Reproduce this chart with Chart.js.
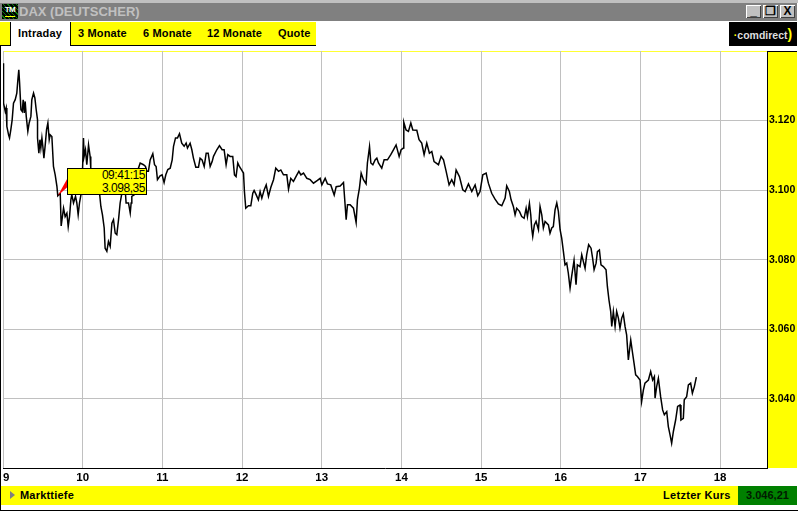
<!DOCTYPE html>
<html><head><meta charset="utf-8">
<script src="https://cdn.jsdelivr.net/npm/chart.js@4"></script>
<style>
html,body{margin:0;padding:0;background:#fff;overflow:hidden}
#w{position:relative;width:798px;height:511px;background:#fff;font-family:"Liberation Sans",Arial,sans-serif;overflow:hidden}
#w div,#w span.a{position:absolute;white-space:nowrap}
canvas{position:absolute;left:0;top:0;z-index:2}
.tab{top:27px;font:bold 11px "Liberation Sans";letter-spacing:.15px;color:#000;line-height:13px}
.btn{top:5px;width:15px;height:13px;background:#c0c0c0;box-shadow:inset 1px 1px 0 #fff,inset -1px -1px 0 #404040;color:#000;font:bold 12px/13px "Liberation Sans";text-align:center}
</style></head><body>
<div id="w">
  <div style="left:0;top:0;width:798px;height:3px;background:#c0c0c0"></div>
  <div style="left:0;top:3px;width:797px;height:18px;background:#808080"></div>
  <div style="left:2px;top:4px;width:16px;height:15px;background:repeating-linear-gradient(45deg,#000 0 2px,#0a7a0a 2px 3px);color:#fff;font:bold 8px/11px 'Liberation Sans';text-align:center;letter-spacing:-.5px"><span style="position:absolute;left:3px;bottom:2px;width:10px;height:1px;background:#ff0"></span>TM</div>
  <div style="left:19px;top:4px;font:bold 13px/16px 'Liberation Sans';color:#c0c0c0">DAX (DEUTSCHER)</div>
  <div class="btn" style="left:746px">_</div>
  <div class="btn" style="left:763px">&#10064;</div>
  <div class="btn" style="left:780px">X</div>

  <div style="left:0;top:22px;width:10px;height:23px;background:#ff0;border-bottom:1px solid #000"></div>
  <div style="left:10px;top:22px;width:1px;height:24px;background:#000"></div>
  <div style="left:71px;top:22px;width:245px;height:23px;background:#ff0;border-bottom:1px solid #000"></div>
  <div style="left:70px;top:22px;width:1px;height:24px;background:#000"></div>
  <div class="tab" style="left:18px">Intraday</div>
  <div class="tab" style="left:78px">3 Monate</div>
  <div class="tab" style="left:143px">6 Monate</div>
  <div class="tab" style="left:207px">12 Monate</div>
  <div class="tab" style="left:278px">Quote</div>
  <div style="left:729px;top:22px;width:68px;height:24px;background:#000;color:#ddd;font:bold 10.5px/24px 'Liberation Sans';text-align:center"><span style="color:#ff0">&#183;</span>comdirect<span style="color:#ff0;font-size:14px">)</span></div>

  <div style="left:3px;top:51px;width:764px;height:1px;background:#ffff33"></div>
  <div style="left:767px;top:51px;width:30px;height:417px;background:#ff0;box-shadow:inset 0 1px 0 #000"></div>

  <div style="left:1px;top:486px;width:737px;height:19px;background:#ff0"></div>
  <div style="left:738px;top:486px;width:59px;height:19px;background:#008000;color:#001a00;font:bold 11px/19px 'Liberation Sans';text-align:center">3.046,21</div>
  <div style="left:10px;top:491px;width:0;height:0;border-left:5px solid #808080;border-top:4px solid transparent;border-bottom:4px solid transparent"></div>
  <div style="left:20px;top:489px;font:bold 11px/13px 'Liberation Sans';color:#000;letter-spacing:.2px">Markttiefe</div>
  <div style="left:663px;top:489px;font:bold 11px/13px 'Liberation Sans';color:#000;letter-spacing:.3px">Letzter Kurs</div>
  <div style="left:0;top:510px;width:798px;height:1px;background:#000"></div>
  <div style="left:0;top:46px;width:1px;height:465px;background:#000"></div>

  <canvas id="c" width="798" height="511"></canvas>

  <div style="left:67px;top:168px;width:78px;height:25px;background:#ff0;border:1px solid #000;z-index:3;color:#000;font:12px/12.5px 'Liberation Sans';letter-spacing:-.45px;text-align:right"><div id="t1" style="right:1px;top:0"></div><div id="t2" style="right:1px;top:12.5px"></div></div>
</div>
<script>
// Minutes after 09:00 and DAX level
const minutes = [0.4,0.4,1.7,2.4,2.9,4.2,4.9,5.9,6.9,7.9,9.2,10.4,11.2,11.9,12.5,13.5,14.5,15.2,16.0,16.7,17.5,18.7,19.7,21.0,21.7,23.0,24.0,25.0,26.0,26.0,27.0,27.8,28.5,29.3,30.0,30.8,31.8,32.8,33.8,34.8,35.5,36.8,38.0,39.3,40.6,41.25,43.1,43.8,45.6,46.8,48.1,49.1,50.1,51.1,51.8,53.1,54.6,55.6,56.6,57.6,58.9,59.9,60.6,61.1,62.1,63.1,64.4,65.6,66.1,68.1,70.7,72.7,73.7,74.9,76.2,76.9,78.2,79.4,80.7,82.0,83.2,84.5,85.7,87.0,88.2,89.5,91.2,92.2,92.7,94.5,95.8,96.5,97.0,99.0,100.8,102.0,103.3,105.8,107.3,108.3,109.5,110.8,112.8,114.1,115.3,116.3,118.3,119.8,121.3,122.6,124.1,125.9,127.4,128.4,129.9,131.4,132.9,134.6,136.4,137.9,138.9,140.9,142.2,143.4,145.2,147.2,148.4,149.9,151.5,153.0,154.5,156.0,157.5,158.5,161.0,163.0,165.0,166.5,168.0,169.3,171.0,173.0,174.3,175.5,176.8,178.0,179.5,181.1,181.8,182.8,184.8,186.6,188.1,189.1,190.6,192.3,193.6,194.9,196.7,198.2,199.9,201.7,203.7,205.4,207.5,209.2,211.2,213.7,215.0,216.7,218.7,221.3,222.8,224.3,226.3,228.8,231.3,233.8,236.8,238.8,240.1,242.6,244.3,246.8,249.4,250.9,253.9,256.4,257.6,258.4,259.4,261.4,263.9,265.9,266.9,268.4,269.7,271.4,273.4,274.4,276.0,277.0,278.5,280.2,281.5,282.7,285.2,287.0,289.5,292.0,294.0,296.0,298.3,299.8,301.5,301.8,303.5,305.3,307.1,308.6,311.6,313.3,315.3,317.1,319.1,321.1,322.9,324.6,327.9,329.9,331.7,333.7,335.9,337.9,339.7,341.2,343.7,346.2,348.0,350.5,353.0,355.5,357.5,359.2,361.3,363.8,365.5,368.0,370.5,373.0,375.6,378.1,379.3,381.3,382.6,384.3,385.6,386.8,388.9,390.6,392.4,393.9,394.9,396.4,397.4,398.1,398.9,400.1,401.4,403.2,404.4,405.7,406.9,408.2,410.7,411.9,413.2,414.4,415.7,417.0,418.2,419.5,420.7,422.0,423.2,424.5,425.7,427.0,428.2,430.0,431.5,432.5,434.5,435.8,437.0,438.3,439.5,441.0,442.8,444.0,445.1,446.6,447.6,449.1,450.3,452.1,454.1,455.1,456.3,457.6,458.4,459.6,460.9,462.1,463.4,464.6,465.9,467.1,468.4,469.6,470.9,472.7,473.9,475.2,476.4,477.7,479.7,480.9,482.2,483.4,486.0,487.7,489.2,490.5,491.0,492.2,493.5,495.2,496.7,498.0,499.8,501.0,502.3,503.5,504.8,506.5,508.0,509.8,510.5,512.3,513.0,514.8,516.1,517.8,519.1,520.6,522.1];
const prices = [3136.5,3125.0,3122.6,3123.6,3118.3,3115.9,3115.0,3117.4,3120.2,3125.0,3126.0,3127.9,3131.7,3134.6,3130.8,3123.1,3122.6,3126.0,3122.2,3125.5,3121.2,3116.9,3119.3,3121.2,3126.0,3127.9,3126.5,3123.1,3120.2,3115.0,3110.6,3114.5,3112.1,3115.0,3112.6,3109.2,3113.0,3117.4,3119.3,3114.5,3115.9,3115.4,3106.8,3104.4,3101.1,3098.35,3099.1,3089.7,3094.8,3092.4,3093.4,3089.5,3092.4,3097.2,3098.7,3096.3,3098.2,3096.3,3092.9,3096.3,3099.1,3105.9,3115.0,3109.7,3111.6,3107.3,3113.0,3109.7,3106.3,3104.9,3102.0,3099.1,3095.3,3092.9,3089.1,3083.3,3082.4,3085.2,3083.8,3090.5,3091.5,3087.6,3087.2,3091.5,3096.3,3099.1,3102.0,3099.1,3096.3,3096.3,3093.4,3096.3,3098.2,3098.7,3099.1,3106.3,3107.8,3107.3,3106.8,3105.4,3105.4,3108.7,3110.5,3107.3,3106.8,3103.0,3104.1,3104.4,3102.2,3104.4,3105.9,3106.3,3108.7,3112.6,3115.0,3115.0,3116.2,3113.5,3112.6,3113.5,3112.1,3113.5,3111.6,3109.2,3106.6,3106.6,3109.2,3108.7,3106.8,3110.6,3110.6,3106.8,3108.2,3109.7,3111.6,3112.8,3111.6,3111.6,3107.3,3110.2,3109.7,3109.7,3104.4,3103.9,3107.8,3106.8,3105.9,3104.9,3099.6,3094.8,3095.5,3095.5,3099.1,3099.9,3098.7,3097.2,3099.6,3097.7,3100.1,3101.5,3098.2,3100.8,3103.0,3106.3,3105.4,3105.8,3104.4,3104.4,3100.3,3103.4,3102.5,3104.4,3105.4,3104.4,3104.9,3103.4,3103.0,3102.0,3102.8,3103.4,3101.5,3103.4,3101.8,3101.5,3098.6,3101.0,3101.2,3102.2,3095.8,3091.5,3095.8,3095.8,3094.8,3090.7,3097.2,3100.6,3104.9,3103.0,3101.8,3107.8,3112.5,3107.8,3107.3,3108.7,3109.2,3107.8,3106.3,3108.7,3108.7,3110.2,3111.6,3113.0,3109.7,3111.6,3112.1,3119.5,3117.3,3116.9,3119.3,3117.3,3117.2,3114.5,3113.5,3110.2,3113.5,3110.6,3111.1,3108.2,3107.3,3109.7,3108.7,3105.4,3101.5,3103.0,3101.5,3105.8,3103.9,3100.1,3099.6,3101.8,3099.6,3101.5,3098.4,3099.6,3104.4,3104.9,3102.0,3099.1,3097.4,3096.0,3095.5,3097.7,3101.2,3099.6,3097.2,3095.3,3092.9,3094.8,3093.9,3092.4,3091.9,3094.8,3092.4,3096.2,3092.9,3089.1,3086.7,3090.0,3091.0,3088.6,3095.3,3092.9,3089.1,3091.0,3090.0,3087.6,3089.1,3089.5,3094.3,3096.3,3093.9,3088.6,3086.2,3082.3,3078.5,3079.0,3076.1,3071.8,3075.2,3079.8,3072.8,3078.5,3078.0,3081.4,3079.5,3077.5,3081.4,3084.3,3083.3,3080.4,3077.1,3079.0,3082.3,3082.8,3078.5,3078.0,3077.1,3072.3,3068.4,3065.1,3060.8,3065.1,3060.8,3065.1,3063.2,3060.3,3063.2,3064.4,3060.8,3058.4,3051.2,3056.9,3053.6,3050.2,3046.9,3046.4,3045.4,3039.2,3042.5,3044.5,3045.4,3047.8,3045.4,3046.4,3040.2,3043.5,3045.9,3040.6,3036.8,3035.4,3036.3,3032.0,3029.6,3027.2,3030.6,3033.9,3037.8,3038.2,3033.9,3034.4,3039.7,3040.6,3044.0,3044.5,3041.6,3043.5,3046.21];
const hourTicks = [0,60,120,180,240,300,360,420,480,540];
const hourLabels = ["9","10","11","12","13","14","15","16","17","18"];
const priceTicks = [3040,3060,3080,3100,3120];
const priceLabels = ["3.040","3.060","3.080","3.100","3.120"];
const markerMinute = 41.25;
const markerPrice = 3098.35;
const markerTime = "09:41:15";
const markerText = "3.098,35";

document.getElementById('t1').textContent = markerTime;
document.getElementById('t2').textContent = markerText;

const wedge = {
  id:'wedge',
  afterDatasetsDraw(chart){
    const {ctx, scales:{x,y}} = chart;
    const px = x.getPixelForValue(markerMinute), py = y.getPixelForValue(markerPrice);
    ctx.save();
    ctx.fillStyle = '#ff0000';
    ctx.beginPath();
    ctx.moveTo(px, py);
    ctx.lineTo(px+10, py-18);
    ctx.lineTo(px+10, py-9);
    ctx.closePath();
    ctx.fill();
    ctx.restore();
  }
};

new Chart(document.getElementById('c'), {
  type:'line',
  data:{ datasets:[{
    data: minutes.map((m,i)=>({x:m,y:prices[i]})),
    borderColor:'#000', borderWidth:1.5, pointRadius:0, tension:0, fill:false
  }]},
  options:{
    responsive:false, animation:false, devicePixelRatio:1,
    layout:{padding:{left:3,right:1,top:51,bottom:0}},
    plugins:{legend:{display:false},tooltip:{enabled:false},title:{display:false}},
    scales:{
      x:{
        type:'linear', min:0, max:575.3,
        afterBuildTicks(s){ s.ticks = hourTicks.map(v=>({value:v})); },
        afterFit(s){ s.height = 43; s.paddingLeft = 0; s.paddingRight = 0; },
        grid:{ color:'#c0c0c0', lineWidth:1, drawTicks:false },
        border:{ color:'#000', width:1 },
        ticks:{ autoSkip:false, maxRotation:0, padding:3, color:'#000',
          font:{family:'Liberation Sans',weight:'bold',size:11.5},
          callback(v){ const i = hourTicks.indexOf(v); return i===0 ? '  '+hourLabels[0] : hourLabels[i]; } }
      },
      y:{
        type:'linear', position:'right', min:3020.1, max:3140,
        afterBuildTicks(s){ s.ticks = priceTicks.map(v=>({value:v})); },
        afterFit(s){ s.width = 30; s.paddingTop = 0; s.paddingBottom = 0; },
        grid:{ color:'#c0c0c0', lineWidth:1, drawTicks:false },
        border:{ color:'#000', width:1 },
        ticks:{ autoSkip:false, padding:2, color:'#000',
          font:{family:'Liberation Sans',weight:'bold',size:10.5},
          callback(v){ return priceLabels[priceTicks.indexOf(v)]; } }
      }
    }
  },
  plugins:[wedge]
});
</script>
</body></html>
